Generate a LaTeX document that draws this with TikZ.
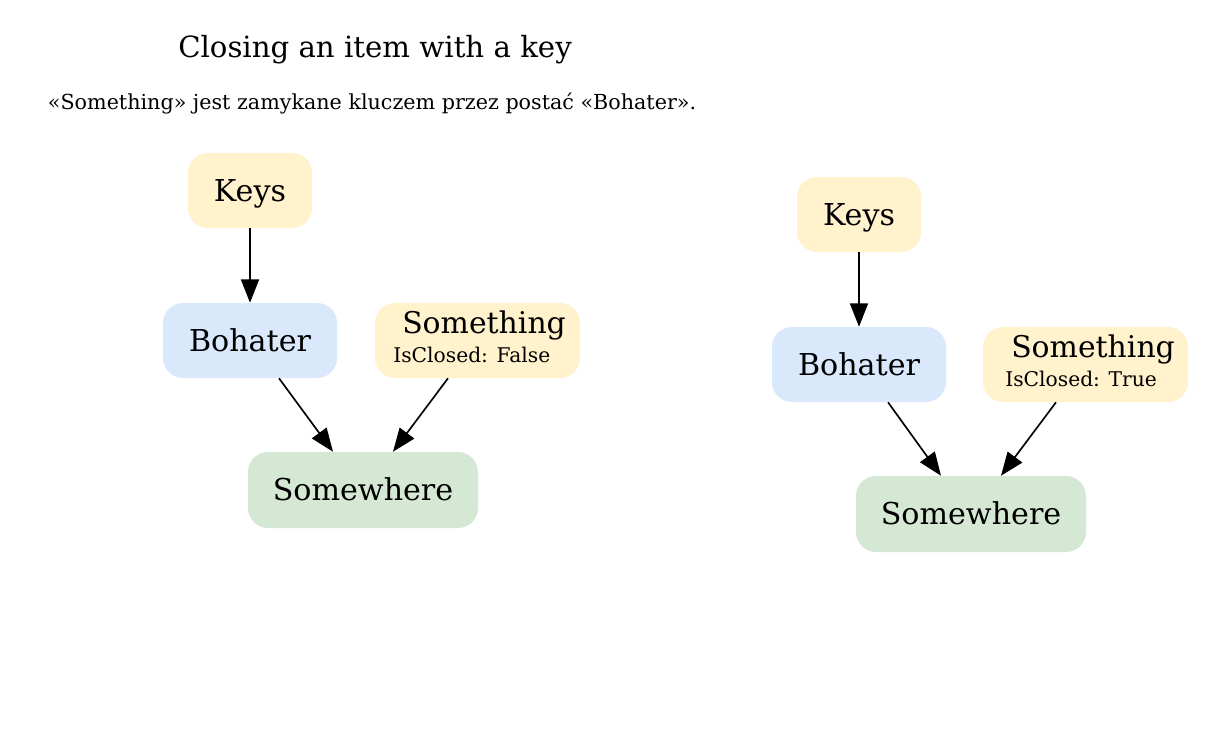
\documentclass[tikz,border=0pt]{standalone}
\usepackage{fontspec}
\setmainfont{DejaVu Serif}
\usetikzlibrary{arrows.meta,calc}
\definecolor{ykey}{HTML}{FFF2CC}
\definecolor{bhero}{HTML}{DAE8FC}
\definecolor{gplace}{HTML}{D5E8D4}
\begin{document}
\begin{tikzpicture}[x=0.75pt,y=-0.75pt,
  box/.style={rounded corners=15pt, inner sep=0pt, text height=16.4pt, text depth=0pt,
    font=\fontsize{22.6}{25}\selectfont},
  item/.style={box, fill=ykey},
  hero/.style={box, fill=bhero},
  place/.style={box, fill=gplace},
  conn/.style={line width=1.25pt, -{Triangle[length=17.5pt,width=13.5pt]}},
  bigtxt/.style={font=\fontsize{22.4}{25}\selectfont, inner sep=0pt, anchor=base west},
  smalltxt/.style={font=\fontsize{15.2}{17}\selectfont, inner sep=0pt, anchor=base west}]
\path[fill=white, use as bounding box] (0,0) rectangle (1216,731);
\node[inner sep=0pt, anchor=base, font=\fontsize{21.9}{24}\selectfont] (title) at (375,58) {Closing an item with a key};
\node[inner sep=0pt, anchor=base, font=\fontsize{15.5}{18}\selectfont] (subtitle) at (372,110) {«Something» jest zamykane kluczem przez postać «Bohater».};
% left graph
\node[item, minimum width=93pt, minimum height=56.25pt] (k1) at (250,190.5) {Keys};
\node[hero, minimum width=130.5pt, minimum height=56.25pt] (b1) at (250,340.5) {Bohater};
\node[item, minimum width=153.75pt, minimum height=56.25pt] (s1) at (477.5,340.5) {};
\node[bigtxt] (s1a) at (402,333) {Something};
\node[smalltxt] (s1b) at (393,362) {IsClosed: False};
\node[place, minimum width=172.5pt, minimum height=57pt] (w1) at (363,490) {Somewhere};
\draw[conn] (k1) -- (b1);
\draw[conn] ($(b1.south)+(29,0)$) -- ($(w1.north)+(-30,0)$);
\draw[conn] ($(s1.south)+(-29.5,0)$) -- ($(w1.north)+(30,0)$);
% right graph
\node[item, minimum width=93pt, minimum height=56.25pt] (k2) at (859,214.5) {Keys};
\node[hero, minimum width=130.5pt, minimum height=56.25pt] (b2) at (859,364.5) {Bohater};
\node[item, minimum width=153.75pt, minimum height=56.25pt] (s2) at (1085.5,364.5) {};
\node[bigtxt] (s2a) at (1011,357) {Something};
\node[smalltxt] (s2b) at (1005,386) {IsClosed: True};
\node[place, minimum width=172.5pt, minimum height=57pt] (w2) at (971,514) {Somewhere};
\draw[conn] (k2) -- (b2);
\draw[conn] ($(b2.south)+(29,0)$) -- ($(w2.north)+(-30,0)$);
\draw[conn] ($(s2.south)+(-29.5,0)$) -- ($(w2.north)+(30,0)$);
\end{tikzpicture}
\end{document}
